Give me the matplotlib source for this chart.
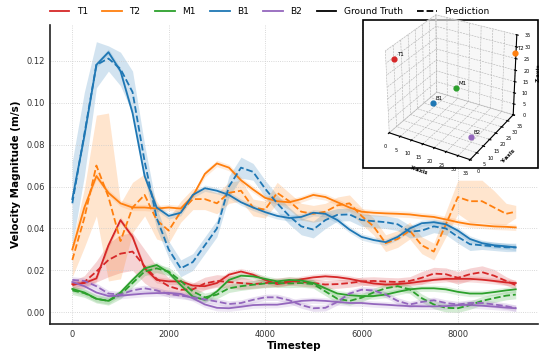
import numpy as np
import matplotlib
matplotlib.use("Agg")
import matplotlib.pyplot as plt
from matplotlib.lines import Line2D
from matplotlib.patches import Rectangle

# ---------------- data ----------------
timesteps = list(range(0, 9001, 250)) + [9200]

t1_gt = [0.0135, 0.014, 0.0162, 0.032, 0.044, 0.036, 0.021, 0.0155, 0.0148, 0.0148,
         0.0128, 0.0125, 0.014, 0.018, 0.0195, 0.018, 0.0155, 0.0135, 0.0144, 0.0158,
         0.0167, 0.0172, 0.0168, 0.016, 0.0148, 0.0138, 0.0133, 0.0135, 0.014, 0.0148,
         0.0155, 0.016, 0.016, 0.016, 0.0156, 0.015, 0.0143, 0.014]
t1_pred = [0.013, 0.0145, 0.0195, 0.025, 0.028, 0.029, 0.022, 0.016, 0.0125, 0.0108,
           0.011, 0.0138, 0.015, 0.0145, 0.014, 0.0135, 0.014, 0.0144, 0.015, 0.0145,
           0.014, 0.0133, 0.0135, 0.014, 0.0148, 0.015, 0.0147, 0.0145, 0.015, 0.0165,
           0.0185, 0.0182, 0.0165, 0.0182, 0.0192, 0.0175, 0.015, 0.013]
t2_gt = [0.030, 0.050, 0.065, 0.057, 0.052, 0.050, 0.050, 0.0495, 0.050, 0.0495,
         0.0554, 0.066, 0.071, 0.069, 0.063, 0.0586, 0.0546, 0.053, 0.0525, 0.054,
         0.056, 0.055, 0.0525, 0.050, 0.048, 0.0475, 0.0472, 0.047, 0.0467, 0.046,
         0.0455, 0.0443, 0.043, 0.042, 0.0415, 0.041, 0.0408, 0.0405]
t2_pred = [0.025, 0.045, 0.070, 0.055, 0.034, 0.050, 0.056, 0.044, 0.039, 0.048,
           0.054, 0.054, 0.052, 0.057, 0.058, 0.050, 0.049, 0.057, 0.053, 0.048,
           0.047, 0.048, 0.051, 0.052, 0.046, 0.041, 0.033, 0.035, 0.039, 0.032,
           0.029, 0.042, 0.055, 0.053, 0.053, 0.050, 0.047, 0.048]
m1_gt = [0.0112, 0.0095, 0.0065, 0.0055, 0.0095, 0.0155, 0.021, 0.0226, 0.019, 0.013,
         0.0075, 0.006, 0.010, 0.0155, 0.0175, 0.0172, 0.016, 0.0148, 0.0155, 0.0152,
         0.014, 0.0115, 0.009, 0.0082, 0.0078, 0.0078, 0.0085, 0.0098, 0.011, 0.0115,
         0.0115, 0.011, 0.0098, 0.009, 0.009, 0.0097, 0.0105, 0.011]
m1_pred = [0.0105, 0.0092, 0.0065, 0.0055, 0.0085, 0.014, 0.0195, 0.021, 0.0195, 0.015,
           0.010, 0.0072, 0.0085, 0.0115, 0.0125, 0.0132, 0.0138, 0.014, 0.0138, 0.014,
           0.0135, 0.010, 0.0065, 0.0055, 0.007, 0.0095, 0.0115, 0.0125, 0.011, 0.0068,
           0.0038, 0.0022, 0.002, 0.0035, 0.0055, 0.0068, 0.008, 0.0085]
b1_gt = [0.054, 0.084, 0.118, 0.124, 0.115, 0.095, 0.065, 0.050, 0.046, 0.0475,
         0.056, 0.0592, 0.058, 0.056, 0.0525, 0.050, 0.0478, 0.046, 0.045, 0.0455,
         0.0475, 0.047, 0.044, 0.0395, 0.036, 0.0345, 0.0335, 0.036, 0.040, 0.0425,
         0.043, 0.042, 0.039, 0.035, 0.033, 0.032, 0.0315, 0.031]
b1_pred = [0.052, 0.085, 0.118, 0.121, 0.116, 0.105, 0.072, 0.045, 0.030, 0.021,
           0.024, 0.032, 0.040, 0.060, 0.069, 0.067, 0.059, 0.052, 0.046, 0.041,
           0.0395, 0.044, 0.0465, 0.0467, 0.044, 0.0435, 0.043, 0.042, 0.0385, 0.039,
           0.041, 0.040, 0.036, 0.0325, 0.032, 0.0315, 0.031, 0.031]
b2_gt = [0.0145, 0.0125, 0.0095, 0.0078, 0.008, 0.0085, 0.009, 0.0092, 0.0093, 0.0088,
         0.0068, 0.0038, 0.0022, 0.002, 0.0027, 0.0035, 0.0037, 0.0037, 0.0045, 0.0055,
         0.0058, 0.0055, 0.005, 0.0045, 0.0045, 0.004, 0.0037, 0.0033, 0.003, 0.0029,
         0.0029, 0.003, 0.0035, 0.0036, 0.0032, 0.0028, 0.0023, 0.002]
b2_pred = [0.0155, 0.015, 0.0125, 0.009, 0.0085, 0.0105, 0.0115, 0.0105, 0.0088, 0.008,
           0.0072, 0.0062, 0.0052, 0.004, 0.0045, 0.006, 0.0072, 0.0072, 0.0058, 0.0035,
           0.002, 0.0022, 0.005, 0.009, 0.0108, 0.0105, 0.0085, 0.0055, 0.0038, 0.005,
           0.0058, 0.0045, 0.0038, 0.0045, 0.0045, 0.0038, 0.003, 0.002]

# std of the prediction (shaded band)
t1_std = [0.002, 0.003, 0.005, 0.008, 0.009, 0.009, 0.008, 0.006, 0.004, 0.003,
          0.003, 0.003, 0.003, 0.003, 0.003, 0.002, 0.002, 0.002, 0.002, 0.002,
          0.002, 0.002, 0.002, 0.002, 0.002, 0.002, 0.002, 0.002, 0.002, 0.003,
          0.003, 0.003, 0.003, 0.003, 0.003, 0.003, 0.002, 0.002]
t2_std = [0.008, 0.014, 0.024, 0.040, 0.018, 0.012, 0.010, 0.009, 0.006, 0.005,
          0.005, 0.005, 0.005, 0.005, 0.005, 0.004, 0.004, 0.005, 0.004, 0.004,
          0.004, 0.004, 0.004, 0.004, 0.004, 0.004, 0.004, 0.004, 0.004, 0.004,
          0.004, 0.006, 0.008, 0.010, 0.010, 0.008, 0.005, 0.003]
m1_std = [0.002] * 38
b1_std = [0.020, 0.020, 0.011, 0.006, 0.008, 0.010, 0.008, 0.005, 0.004, 0.004,
          0.004, 0.004, 0.004, 0.005, 0.005, 0.004, 0.004, 0.004, 0.004, 0.004,
          0.004, 0.004, 0.003, 0.003, 0.003, 0.003, 0.003, 0.003, 0.003, 0.003,
          0.003, 0.003, 0.003, 0.003, 0.002, 0.002, 0.002, 0.002]
b2_std = [0.0015] * 38

names = ['T1', 'T2', 'M1', 'B1', 'B2']
colors = ['#d62728', '#ff7f0e', '#2ca02c', '#1f77b4', '#9467bd']
gts = [t1_gt, t2_gt, m1_gt, b1_gt, b2_gt]
preds = [t1_pred, t2_pred, m1_pred, b1_pred, b2_pred]
stds = [t1_std, t2_std, m1_std, b1_std, b2_std]

# sensor positions for the inset
sensor_x = [1, 35, 19, 10, 31]
sensor_y = [4, 34, 18, 16, 8]
sensor_z = [30, 28, 16, 8, 4]

# ---------------- figure ----------------
fig = plt.figure(figsize=(5.39, 3.51), dpi=100)
ax = fig.add_axes([0.093, 0.077, 0.905, 0.852])

t = np.array(timesteps)
for name, c, gt, pr, sd in zip(names, colors, gts, preds, stds):
    gt = np.array(gt)
    pr = np.array(pr)
    sd = np.array(sd)
    ax.fill_between(t, gt - 0.0015, gt + 0.0015, color=c, alpha=0.15, lw=0)
    ax.fill_between(t, pr - sd, pr + sd, color=c, alpha=0.2, lw=0)
    ax.plot(t, gt, color=c, lw=1.3, ls='-')
    ax.plot(t, pr, color=c, lw=1.3, ls='--')

ax.set_xlim(-460, 9660)
ax.set_ylim(-0.0055, 0.137)
ax.set_xticks([0, 2000, 4000, 6000, 8000])
ax.set_yticks([0.0, 0.02, 0.04, 0.06, 0.08, 0.10, 0.12])
ax.set_yticklabels(['0.00', '0.02', '0.04', '0.06', '0.08', '0.10', '0.12'])
ax.tick_params(labelsize=6, length=0, pad=4, labelcolor='#333333')
ax.grid(True, ls=':', color='#cccccc', lw=0.6)
for s in ['top', 'right']:
    ax.spines[s].set_visible(False)
for s in ['left', 'bottom']:
    ax.spines[s].set_color('#222222')
    ax.spines[s].set_linewidth(1.2)
ax.set_xlabel('Timestep', fontsize=7.5, fontweight='bold', labelpad=2)
ax.set_ylabel('Velocity Magnitude (m/s)', fontsize=7.5, fontweight='bold', labelpad=4)

handles = [Line2D([], [], color=c, lw=1.3) for c in colors]
handles += [Line2D([], [], color='black', lw=1.3), Line2D([], [], color='black', lw=1.3, ls='--')]
labels = names + ['Ground Truth', 'Prediction']
fig.legend(handles, labels, loc='center', bbox_to_anchor=(0.5, 0.967), ncol=7,
           frameon=False, fontsize=6.5, columnspacing=1.6, handlelength=2.2)

# ---------------- inset 3D ----------------
frame = Rectangle((0.673, 0.521), 0.325, 0.422, transform=fig.transFigure,
                  facecolor='white', edgecolor='black', lw=1.2, zorder=1)
fig.add_artist(frame)

with plt.rc_context({'grid.linestyle': '--', 'grid.linewidth': 0.4}):
    ax3 = fig.add_axes([0.673, 0.543, 0.325, 0.422], projection='3d')
    ax3.set_zorder(2)
    ax3.patch.set_facecolor('none')
    for name, c, xs, ys, zs in zip(names, colors, sensor_x, sensor_y, sensor_z):
        ax3.scatter([xs], [ys], [zs], color=c, s=12, depthshade=False)
        ax3.text(xs + 1, ys, zs + 1.5, name, fontsize=4)
    ax3.set_xlim(0, 35)
    ax3.set_ylim(0, 35)
    ax3.set_zlim(0, 35)
    ax3.set_xticks(range(0, 36, 5))
    ax3.set_yticks(range(0, 36, 5))
    ax3.tick_params(labelsize=3.5, pad=-3)
    ax3.set_xlabel('X-axis', fontsize=4, fontweight='bold', labelpad=-10)
    ax3.set_ylabel('Y-axis', fontsize=4, fontweight='bold', labelpad=-10)
    ax3.set_zlabel('Z-axis', fontsize=4, fontweight='bold', labelpad=-10)
    for a in (ax3.xaxis, ax3.yaxis, ax3.zaxis):
        a.set_pane_color((0.95, 0.95, 0.95, 0.6))
    ax3.set_box_aspect((1, 1, 1), zoom=1.06)

fig.savefig('out.png', dpi=100)
